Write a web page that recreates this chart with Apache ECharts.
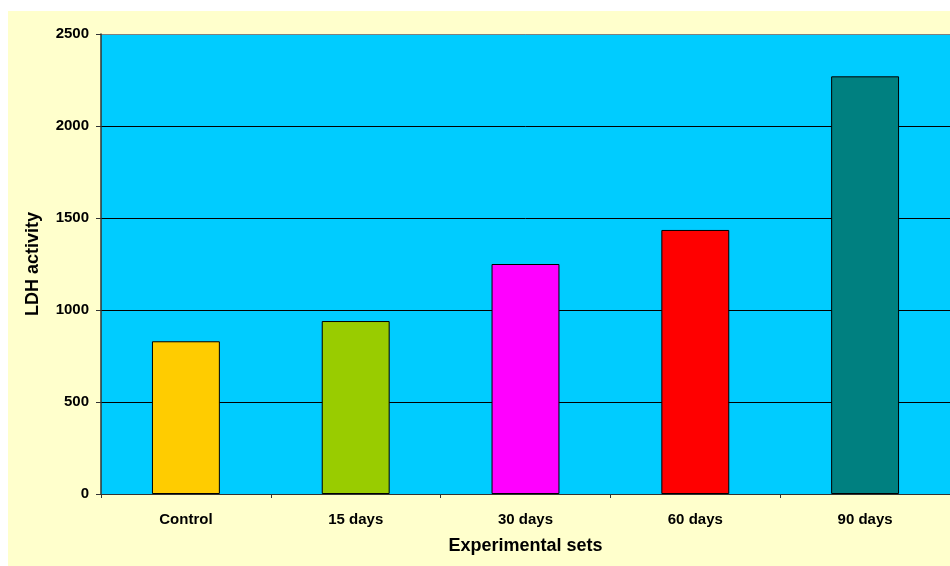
<!DOCTYPE html>
<html>
<head>
<meta charset="utf-8">
<script src="https://cdn.jsdelivr.net/npm/echarts@6/dist/echarts.min.js"></script>
<style>
html,body{margin:0;padding:0;background:#ffffff;}
#chart{width:950px;height:566px;}
</style>
</head>
<body>
<div id="chart"></div>
<script>
const categories = ['Control', '15 days', '30 days', '60 days', '90 days'];
const ldhValues = [830, 940, 1250, 1435, 2270];
const yTicks = [0, 500, 1000, 1500, 2000, 2500];
const barColors = ['#FFCC00', '#99CC00', '#FF00FF', '#FF0000', '#008080'];

const FONT = '"Liberation Sans", Arial, sans-serif';
const chart = echarts.init(document.getElementById('chart'), null, {renderer: 'canvas'});
chart.setOption({
  backgroundColor: '#ffffff',
  animation: false,
  graphic: [{
    type: 'rect', z: -10, silent: true,
    shape: {x: 8, y: 11, width: 950, height: 560},
    style: {fill: '#FFFFCC'}
  }],
  grid: {
    left: 101, top: 34, bottom: 72, width: 852,
    show: true, backgroundColor: '#00CCFF', borderWidth: 0
  },
  xAxis: {
    type: 'category',
    data: categories,
    name: 'Experimental sets',
    nameLocation: 'middle',
    nameGap: 43,
    nameTextStyle: {fontFamily: FONT, fontWeight: 'bold', fontSize: 18, color: '#000'},
    axisLine: {show: true, lineStyle: {color: '#333333', width: 1}},
    axisTick: {show: true, length: 4, alignWithLabel: false, lineStyle: {color: '#333333'}},
    axisLabel: {fontFamily: FONT, fontWeight: 'bold', fontSize: 15, color: '#000', margin: 18},
    splitLine: {show: false}
  },
  yAxis: {
    type: 'value',
    min: yTicks[0], max: yTicks[yTicks.length - 1], interval: yTicks[1] - yTicks[0],
    name: 'LDH activity',
    nameLocation: 'middle',
    nameRotate: 90,
    nameGap: 59,
    nameTextStyle: {fontFamily: FONT, fontWeight: 'bold', fontSize: 18, color: '#000'},
    axisLine: {show: true, lineStyle: {color: '#333333', width: 1.5}},
    axisTick: {show: true, length: 5, inside: false, lineStyle: {color: '#333333'}},
    axisLabel: {fontFamily: FONT, fontWeight: 'bold', fontSize: 15, color: '#000', margin: 12,
                formatter: v => String(v)},
    splitLine: {show: true, lineStyle: {color: ['#000', '#000', '#000', '#000', '#000', '#808080'], width: 1}}
  },
  series: [{
    type: 'bar',
    barWidth: '40%',
    data: ldhValues.map((v, i) => ({
      value: v,
      itemStyle: {color: barColors[i], borderColor: '#000', borderWidth: 1}
    }))
  }]
});
</script>
</body>
</html>
